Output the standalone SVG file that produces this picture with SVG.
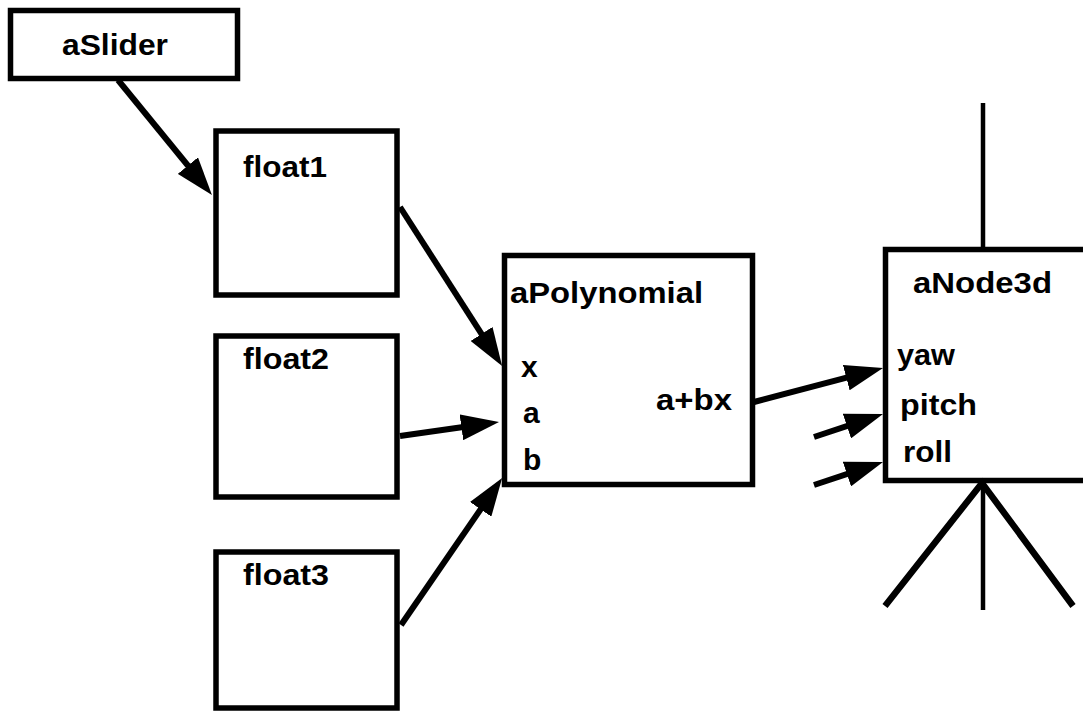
<svg xmlns="http://www.w3.org/2000/svg" width="1083" height="713" viewBox="0 0 1083 713">
<style>
.box{fill:#fff;stroke:#000;stroke-width:5.5}
.t{font-family:"Liberation Sans",Arial,Helvetica,sans-serif;font-weight:bold;font-size:30px;fill:#000}
.c{stroke:#000;stroke-width:6;fill:none}
.leg{stroke:#000;stroke-width:6.5;fill:none}
</style>
<defs>
<marker id="ah" viewBox="0 0 38 26" refX="18" refY="13" markerWidth="38" markerHeight="26" markerUnits="userSpaceOnUse" orient="auto">
<path d="M0,0 L38,13 L0,26 z" fill="#000"/>
</marker>
</defs>
<rect width="1083" height="713" fill="#fff"/>
<g id="aSlider">
<rect class="box" x="10.5" y="10.5" width="227" height="68"/>
<text class="t" x="62" y="55" textLength="106" lengthAdjust="spacingAndGlyphs">aSlider</text>
</g>
<g id="float1">
<rect class="box" x="216" y="131" width="181" height="164"/>
<text class="t" x="243" y="177" textLength="84" lengthAdjust="spacingAndGlyphs">float1</text>
</g>
<g id="float2">
<rect class="box" x="216" y="336" width="181" height="161"/>
<text class="t" x="243" y="369" textLength="86" lengthAdjust="spacingAndGlyphs">float2</text>
</g>
<g id="float3">
<rect class="box" x="216" y="552" width="181" height="156"/>
<text class="t" x="243" y="585" textLength="86" lengthAdjust="spacingAndGlyphs">float3</text>
</g>
<g id="aPolynomial">
<rect class="box" x="504.5" y="255.5" width="248" height="229"/>
<text class="t" x="510" y="303" textLength="193" lengthAdjust="spacingAndGlyphs">aPolynomial</text>
<text class="t" x="521" y="377">x</text>
<text class="t" x="523" y="423">a</text>
<text class="t" x="523" y="470">b</text>
<text class="t" x="656" y="410" textLength="76" lengthAdjust="spacingAndGlyphs">a+bx</text>
</g>
<g id="aNode3d">
<line x1="983" y1="103" x2="983" y2="248" stroke="#000" stroke-width="4.5"/>
<rect class="box" x="885.5" y="249.5" width="210" height="231"/>
<text class="t" x="913" y="293" textLength="139" lengthAdjust="spacingAndGlyphs">aNode3d</text>
<text class="t" x="897" y="365" textLength="58" lengthAdjust="spacingAndGlyphs">yaw</text>
<text class="t" x="900" y="415" textLength="77" lengthAdjust="spacingAndGlyphs">pitch</text>
<text class="t" x="903" y="462" textLength="49" lengthAdjust="spacingAndGlyphs">roll</text>
<path class="leg" d="M885,606 L982,483 L1073,606"/>
<line x1="983" y1="483" x2="983" y2="610" stroke="#000" stroke-width="4.5"/>
</g>
<g id="connectors">
<line class="c" x1="118" y1="80" x2="199.3" y2="179.5" marker-end="url(#ah)"/>
<line class="c" x1="400" y1="207" x2="491.3" y2="349.1" marker-end="url(#ah)"/>
<line class="c" x1="400" y1="436" x2="479.2" y2="424.8" marker-end="url(#ah)"/>
<line class="c" x1="401" y1="625" x2="490.8" y2="494.5" marker-end="url(#ah)"/>
<line class="c" x1="754" y1="402" x2="863.7" y2="373.1" marker-end="url(#ah)"/>
<line class="c" x1="814" y1="437" x2="864" y2="420.3" marker-end="url(#ah)"/>
<line class="c" x1="814" y1="485" x2="864" y2="468.3" marker-end="url(#ah)"/>
</g>
</svg>
